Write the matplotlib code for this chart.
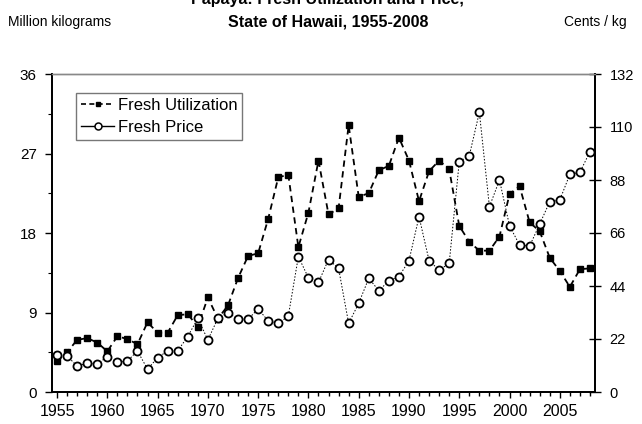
import matplotlib.pyplot as plt
from matplotlib.lines import Line2D
import numpy as np

plt.rcParams['font.family'] = ['Liberation Sans', 'DejaVu Sans']

years = list(range(1955, 2009))

# fresh utilization, million kg
fresh_util = [3.5, 4.5, 5.9, 6.1, 5.6, 4.6, 6.3, 6.0, 5.4, 7.9,
              6.7, 6.7, 8.7, 8.8, 7.4, 10.7, 8.3, 9.8, 12.9, 15.4,
              15.7, 19.6, 24.3, 24.6, 16.4, 20.3, 26.2, 20.1, 20.8, 30.2,
              22.1, 22.5, 25.1, 25.6, 28.8, 26.2, 21.6, 25.0, 26.2, 25.2,
              18.8, 17.0, 16.0, 16.0, 17.6, 22.4, 23.3, 19.2, 18.2, 15.2,
              13.7, 11.9, 13.9, 14.0]

# fresh price, cents / kg
fresh_price = [15.4, 14.9, 10.8, 11.9, 11.6, 14.7, 12.3, 12.9, 17.0, 9.5,
               14.2, 17.1, 17.1, 23.0, 30.6, 21.6, 30.6, 32.9, 30.3, 30.2,
               34.5, 29.5, 28.5, 31.5, 56.2, 47.4, 45.5, 55.0, 51.3, 28.5,
               36.8, 47.2, 42.1, 46.1, 47.9, 54.5, 72.8, 54.5, 50.6, 53.4,
               95.6, 98.1, 116.1, 76.9, 88.0, 69.0, 61.0, 60.6, 69.7, 79.0,
               79.7, 90.4, 91.2, 99.8]

left_ticks = [0, 9, 18, 27, 36]
right_ticks = [0, 22, 44, 66, 88, 110, 132]
year_labels = list(range(1955, 2006, 5))

fig = plt.figure(figsize=(6.42, 4.24), dpi=100)
ax = fig.add_axes([52/642, 1-392/424, (595-52)/642, (392-74)/424])
ax2 = ax.twinx()

ax.plot(years, fresh_util, color='black', lw=1.3, linestyle=(0, (3.5, 2.5)),
        marker='s', markersize=4.3, markerfacecolor='black', zorder=3)
ax2.plot(years, fresh_price, color='black', lw=0.7, linestyle=(0, (1.5, 1.8)),
         marker='o', markersize=5.8, markerfacecolor='white',
         markeredgecolor='black', markeredgewidth=1.3, zorder=4)

ax.set_xlim(1954.5, 2008.5)
ax.set_ylim(0, 36)
ax2.set_ylim(0, 132)

ax.set_yticks(left_ticks)
ax.set_yticks(np.arange(0, 36.1, 4.5), minor=True)
ax.tick_params(axis='y', which='major', direction='out', length=5, width=1,
               labelsize=11, pad=6)
ax.tick_params(axis='y', which='minor', direction='out', length=3, width=0.8)
ax2.set_yticks(right_ticks)
ax2.tick_params(axis='y', direction='inout', length=9, width=1,
                labelsize=10.5, pad=6)

ax.set_xticks(years, minor=True)
ax.set_xticks(year_labels)
ax.tick_params(axis='x', which='both', direction='out', length=4, width=1,
               labelsize=11.5, pad=5)
ax.tick_params(axis='x', which='minor', length=3)

for a in (ax, ax2):
    a.spines['top'].set_color('#888888')
    a.spines['top'].set_linewidth(1)
    a.spines['left'].set_linewidth(1.3)
    a.spines['right'].set_linewidth(1.3)
    a.spines['bottom'].set_linewidth(1.3)

h1 = Line2D([], [], color='black', lw=1.2, linestyle=(0, (3, 2)),
            marker='s', markersize=3.5)
h2 = Line2D([], [], color='black', lw=1, marker='o', markersize=5,
            markerfacecolor='white', markeredgewidth=1.1)
leg = ax2.legend([h1, h2], ['Fresh Utilization', 'Fresh Price'],
                 loc='upper left', bbox_to_anchor=(0.044, 0.94),
                 fontsize=12, frameon=True, fancybox=False,
                 edgecolor='#555555', handlelength=2.0, handletextpad=0.2,
                 borderpad=0.3, labelspacing=0.4, borderaxespad=0)
leg.get_frame().set_linewidth(1)

fig.text(327/642, 1-4/424, 'Papaya: Fresh Utilization and Price,',
         ha='center', va='baseline', fontsize=11.5, fontweight='bold')
fig.text(328/642, 1-22/424, 'State of Hawaii, 1955-2008',
         ha='center', va='center', fontsize=11.5, fontweight='bold')
fig.text(8/642, 1-22/424, 'Million kilograms', ha='left', va='center',
         fontsize=10)
fig.text(627/642, 1-22/424, 'Cents / kg', ha='right', va='center',
         fontsize=10)

fig.savefig('out.png', dpi=100)
